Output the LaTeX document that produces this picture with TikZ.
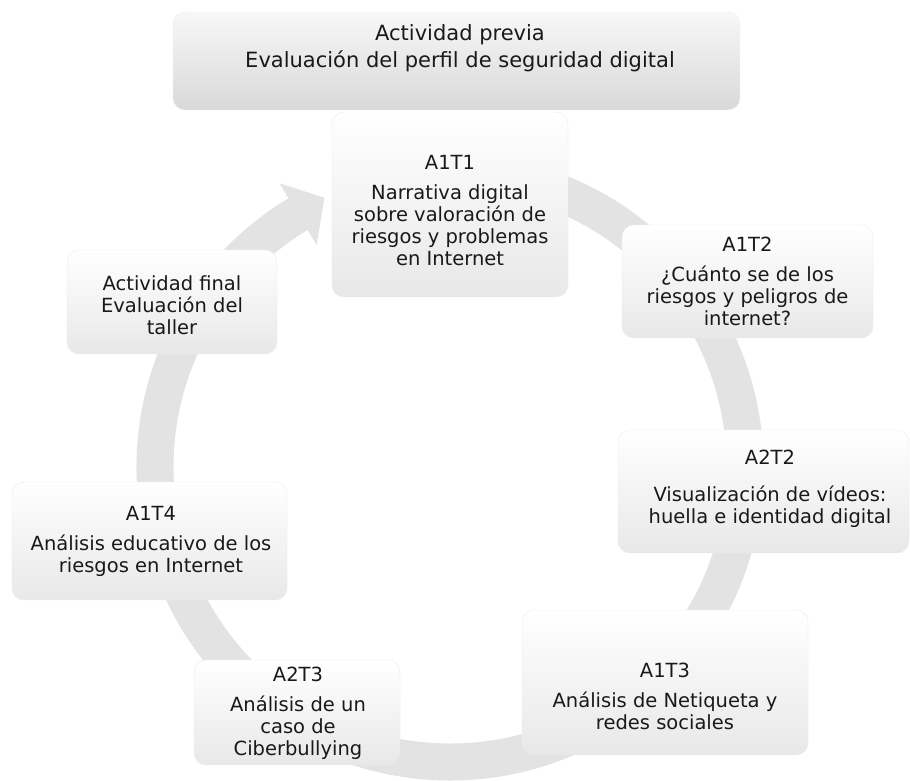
\documentclass[tikz,border=0pt]{standalone}
\usepackage{fontspec}
\setmainfont{DejaVu Sans}
\usetikzlibrary{calc}

\tikzset{
  cyclebox/.style={draw=black!8, rounded corners=12pt, top color=white, bottom color=black!9, inner sep=0pt},
  prevbox/.style={draw=black!6, rounded corners=12pt, top color=black!3, bottom color=black!15, inner sep=0pt},
  boxtext/.style={align=center, text=black!90, font=\fontsize{19.5}{22}\selectfont},
  ring/.style={draw=black!11, line width=37pt},
}

\begin{document}
\begin{tikzpicture}[x=1pt,y=1pt]

        \fill[white] (0,0) rectangle (910,781);
        \useasboundingbox (0,0) rectangle (910,781);
        % circular arrow behind the boxes
        \coordinate (c) at (450,314);
        \draw[ring] (c) ++(85:295) arc[start angle=85, end angle=-239, radius=295];
        \fill[black!11] ($(c)+(121:259)$) -- ($(c)+(121:331)$) -- ($(c)+(115:297)$) -- cycle;
        % boxes
        \node[cyclebox, minimum width=236, minimum height=185] (a1t1) at (450,576.5) {};
        \node[prevbox, minimum width=567, minimum height=98] (prev) at (456.5,720) {};
        \node[cyclebox, minimum width=251, minimum height=113] (a1t2) at (747.5,499.5) {};
        \node[cyclebox, minimum width=291, minimum height=123] (a2t2) at (763.5,289.5) {};
        \node[cyclebox, minimum width=286, minimum height=145] (a1t3) at (665,98.5) {};
        \node[cyclebox, minimum width=206, minimum height=105] (a2t3) at (297,68.5) {};
        \node[cyclebox, minimum width=275, minimum height=118] (a1t4) at (149.5,240) {};
        \node[cyclebox, minimum width=210, minimum height=104] (final) at (172,479) {};
        % texts
        \node[boxtext, font=\fontsize{21}{27}\selectfont] (prevtext) at (460,732.5) {Actividad previa\\Evaluación del perfil de seguridad digital};
        \node[boxtext] (a1t1text) at (450,570.5) {A1T1\\[8pt]Narrativa digital\\sobre valoración de\\riesgos y problemas\\en Internet};
        \node[boxtext] (a1t2text) at (747.5,500) {A1T2\\[8pt]¿Cuánto se de los\\riesgos y peligros de\\internet?};
        \node[boxtext] (a2t2text) at (770,292) {A2T2\\[15pt]Visualización de vídeos:\\huella e identidad digital};
        \node[boxtext] (a1t3text) at (665,85) {A1T3\\[8pt]Análisis de Netiqueta y\\redes sociales};
        \node[boxtext] (a2t3text) at (298,68) {A2T3\\[8pt]Análisis de un\\caso de\\Ciberbullying};
        \node[boxtext] (a1t4text) at (151,239.5) {A1T4\\[8pt]Análisis educativo de los\\riesgos en Internet};
        \node[boxtext] (finaltext) at (172,476) {Actividad final\\Evaluación del\\taller};
    \end{tikzpicture}
\end{document}
